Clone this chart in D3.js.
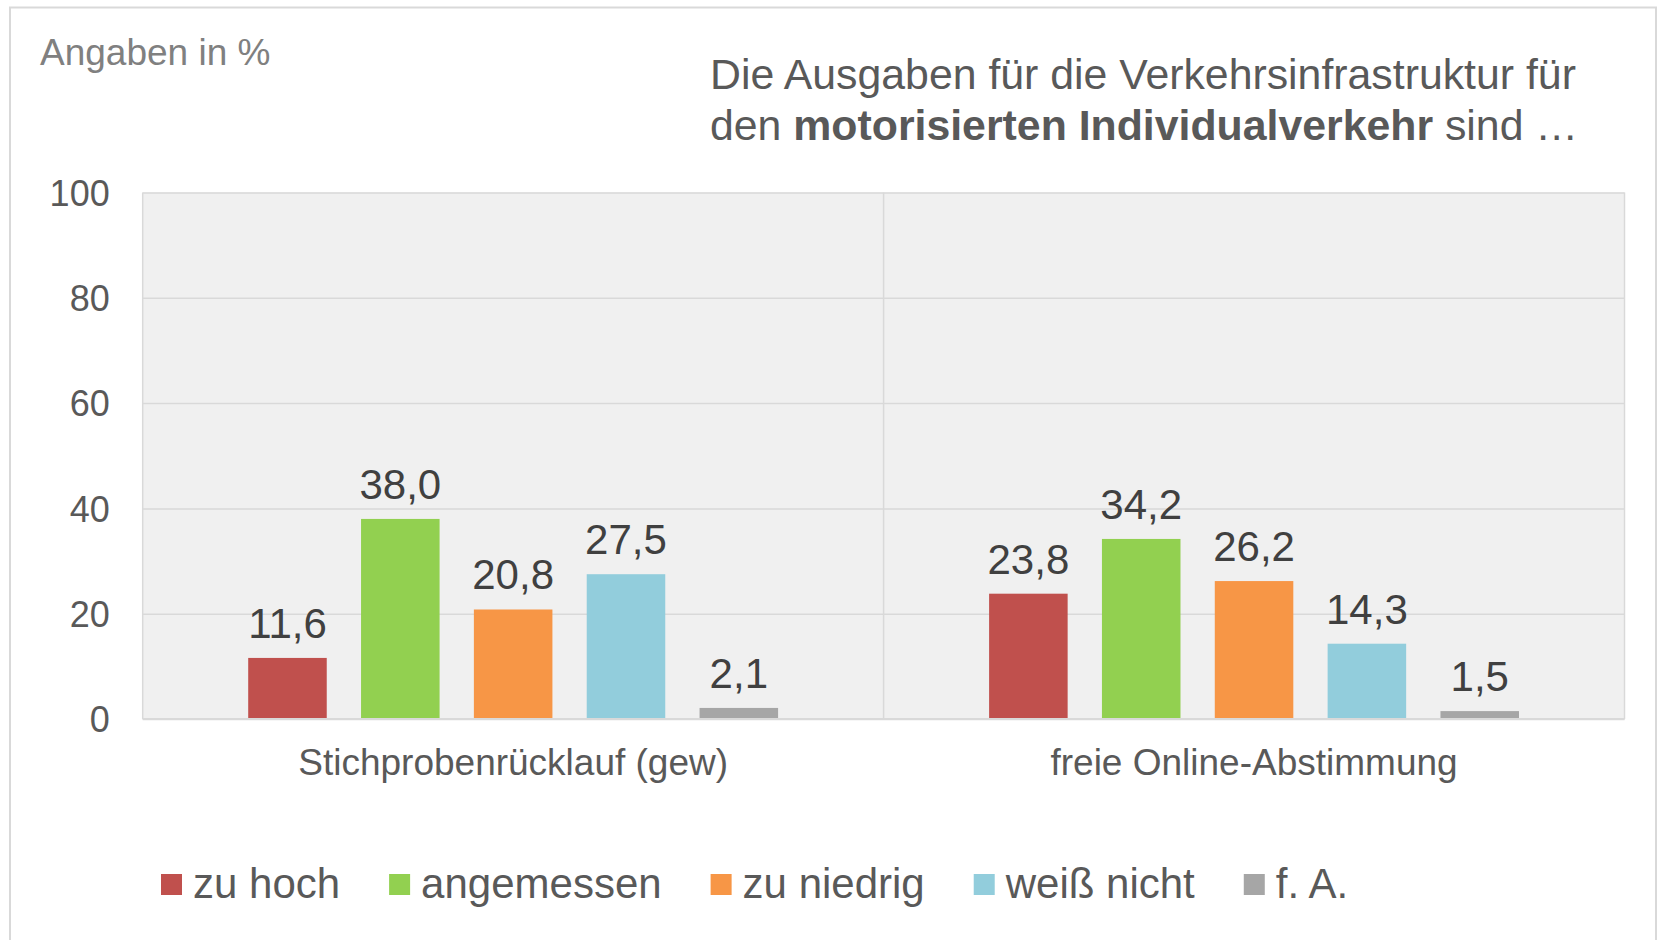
<!DOCTYPE html>
<html>
<head>
<meta charset="utf-8">
<script src="https://cdn.jsdelivr.net/npm/d3@7"></script>
<style>
  html, body { margin: 0; padding: 0; background: #fff; }
  svg { display: block; font-family: "Liberation Sans", Arial, sans-serif; }
</style>
</head>
<body>
<svg id="chart" width="1657" height="940"></svg>
<script>
const groups = ["Stichprobenrücklauf (gew)", "freie Online-Abstimmung"];
const series = ["zu hoch", "angemessen", "zu niedrig", "weiß nicht", "f. A."];
const colors = ["#C0504D", "#92D050", "#F79646", "#92CDDC", "#A6A6A6"];
const valuesStichprobe = [11.6, 38.0, 20.8, 27.5, 2.1];
const valuesOnline = [23.8, 34.2, 26.2, 14.3, 1.5];
const yTicks = [0, 20, 40, 60, 80, 100];
const unitLabel = "Angaben in %";

const data = groups.map((g, i) => ({
  group: g,
  values: series.map((s, j) => ({ series: s, value: [valuesStichprobe, valuesOnline][i][j], color: colors[j] }))
}));

const svg = d3.select("#chart");
const fmt = v => v.toFixed(1).replace(".", ",");

// outer frame
svg.append("rect").attr("x", 10).attr("y", 7.5).attr("width", 1646).attr("height", 960)
  .attr("fill", "#fff").attr("stroke", "#D9D9D9").attr("stroke-width", 2);

const pLeft = 142.7, pRight = 1624.5, pTop = 192.5, pBottom = 719;

const x0 = d3.scaleBand().domain(groups).range([pLeft, pRight]).padding(0);
const x1 = d3.scaleBand().domain(series).range([0, x0.bandwidth()]).paddingInner(0.304).paddingOuter(0.935);
const y = d3.scaleLinear().domain([0, 100]).range([pBottom, pTop]);

// plot background
svg.append("rect").attr("x", pLeft).attr("y", pTop).attr("width", pRight - pLeft).attr("height", pBottom - pTop)
  .attr("fill", "#F0F0F0");

// horizontal gridlines
const yAxis = svg.append("g").attr("transform", `translate(${pLeft},0)`)
  .call(d3.axisLeft(y).tickValues(yTicks).tickSize(-(pRight - pLeft)).tickPadding(33).tickFormat(d => d));
yAxis.select(".domain").remove();
yAxis.selectAll(".tick line").attr("stroke", "#D9D9D9").attr("stroke-width", 1.5);
yAxis.selectAll(".tick text").attr("fill", "#595959").attr("font-size", 36)
  .attr("font-family", "Liberation Sans, Arial, sans-serif").attr("dy", "0.35em");

// vertical separators / plot border
const sepX = [pLeft, x0(groups[1]), pRight];
svg.selectAll(".sep").data(sepX).enter().append("line")
  .attr("x1", d => d).attr("x2", d => d).attr("y1", pTop).attr("y2", pBottom)
  .attr("stroke", "#D9D9D9").attr("stroke-width", 1.5);

// bars
const gG = svg.selectAll(".grp").data(data).enter().append("g")
  .attr("transform", d => `translate(${x0(d.group)},0)`);

gG.selectAll("rect.bar").data(d => d.values).enter().append("rect")
  .attr("class", "bar")
  .attr("x", d => x1(d.series)).attr("width", x1.bandwidth())
  .attr("y", d => y(d.value)).attr("height", d => y(0) - y(d.value))
  .attr("fill", d => d.color);

gG.selectAll("text.val").data(d => d.values).enter().append("text")
  .attr("x", d => x1(d.series) + x1.bandwidth() / 2)
  .attr("y", d => y(d.value) - 20)
  .attr("text-anchor", "middle").attr("font-size", 42).attr("fill", "#404040")
  .text(d => fmt(d.value));

// bottom axis line
svg.append("line").attr("x1", pLeft).attr("x2", pRight).attr("y1", pBottom).attr("y2", pBottom)
  .attr("stroke", "#D9D9D9").attr("stroke-width", 2);

// category labels
const xAxis = svg.append("g").attr("transform", `translate(0,${pBottom})`)
  .call(d3.axisBottom(x0).tickSize(0).tickPadding(0));
xAxis.select(".domain").remove();
xAxis.selectAll(".tick text").attr("fill", "#595959").attr("font-size", 37)
  .attr("font-family", "Liberation Sans, Arial, sans-serif").attr("dy", null).attr("y", 56);

// unit label
svg.append("text").attr("x", 40).attr("y", 65).attr("font-size", 37).attr("fill", "#808080").text(unitLabel);

// title
const t1 = svg.append("text").attr("x", 710).attr("y", 89).attr("font-size", 42.8).attr("fill", "#595959");
t1.text("Die Ausgaben für die Verkehrsinfrastruktur für");
const t2 = svg.append("text").attr("x", 710).attr("y", 140).attr("font-size", 42.8).attr("fill", "#595959");
t2.append("tspan").text("den ");
t2.append("tspan").attr("font-weight", "bold").text("motorisierten Individualverkehr");
t2.append("tspan").text(" sind …");

// legend
const legend = svg.append("g");
let lx = 161;
series.forEach((s, i) => {
  legend.append("rect").attr("x", lx).attr("y", 874).attr("width", 21).attr("height", 21).attr("fill", colors[i]);
  const t = legend.append("text").attr("x", lx + 32).attr("y", 898).attr("font-size", 42).attr("fill", "#595959").text(s);
  lx = lx + 32 + t.node().getComputedTextLength() + 49;
});
</script>
</body>
</html>
